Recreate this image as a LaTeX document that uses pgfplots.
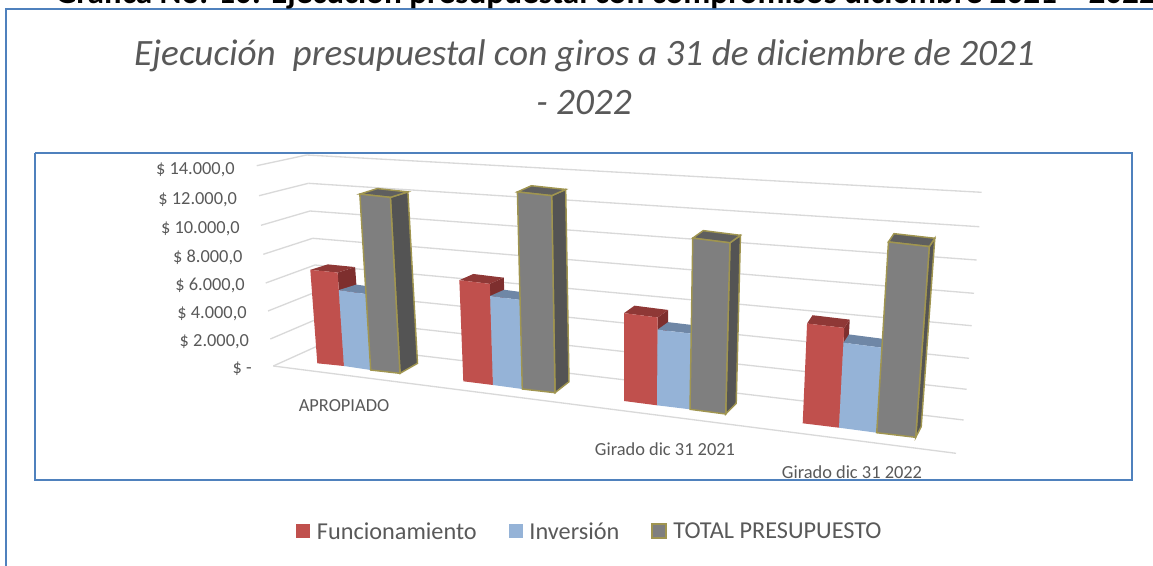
\documentclass[border=0pt]{standalone}
\usepackage{pgfplots}
\pgfplotsset{compat=1.18}
\usepackage{fontspec}
\setmainfont{Carlito}
\definecolor{txt}{HTML}{595959}
\definecolor{frame}{HTML}{4F81BD}
\definecolor{gridc}{HTML}{D9D9D9}
\definecolor{gold}{HTML}{A09550}
\definecolor{redF}{HTML}{C0504D}
\definecolor{redT}{HTML}{8F3836}
\definecolor{redS}{HTML}{7E2F2E}
\definecolor{bluF}{HTML}{95B3D7}
\definecolor{bluT}{HTML}{6F87A6}
\definecolor{bluS}{HTML}{5F7690}
\definecolor{gryF}{HTML}{7F7F7F}
\definecolor{gryT}{HTML}{5F5F5F}
\definecolor{gryS}{HTML}{545454}

% perspective of a group: px per 1000, depth dx, depth dy at top, depth dy at floor
\newcommand{\setgroup}[4]{\def\gs{#1}\def\gdx{#2}\def\gdt{#3}\def\gdb{#4}}
% bar: front base corners in px, value, colour prefix, outline
\newcommand{\threedbar}[7]{%
  \pgfmathsetmacro\ha{#5/1000*\gs}%
  \pgfmathsetmacro\xa{#1}\pgfmathsetmacro\ya{#2}%
  \pgfmathsetmacro\xb{#3}\pgfmathsetmacro\yb{#4}%
  \pgfmathsetmacro\xc{#3+(#3-624)*0.00024*\ha}\pgfmathsetmacro\yc{#4-\ha}%
  \pgfmathsetmacro\xd{#1+(#1-624)*0.00024*\ha}\pgfmathsetmacro\yd{#2-\ha}%
  \pgfmathsetmacro\xe{\xc+\gdx}\pgfmathsetmacro\ye{\yc+\gdt}%
  \pgfmathsetmacro\xf{\xd+\gdx}\pgfmathsetmacro\yf{\yd+\gdt}%
  \pgfmathsetmacro\xg{\xb+\gdx}\pgfmathsetmacro\yg{\yb+\gdb}%
  \edef\tmp{%
    \noexpand\addplot[fill=#6S,draw=#7,line width=1.1pt,forget plot] coordinates {(\xb,\yb)(\xc,\yc)(\xe,\ye)(\xg,\yg)} -- cycle;
    \noexpand\addplot[fill=#6T,draw=#7,line width=1.1pt,forget plot] coordinates {(\xd,\yd)(\xc,\yc)(\xe,\ye)(\xf,\yf)} -- cycle;
    \noexpand\addplot[fill=#6F,draw=#7,line width=1.1pt,forget plot] coordinates {(\xa,\ya)(\xb,\yb)(\xc,\yc)(\xd,\yd)} -- cycle;
  }\tmp
}
\newcommand{\gline}[4]{\addplot[gridc,line width=1pt,forget plot] coordinates {(#1,#2)(#3,#4)};}

\begin{document}
\begin{tikzpicture}
\path[use as bounding box] (0,0) rectangle (864.75pt,423.75pt);
\begin{axis}[
at={(0,0)},anchor=south west,
width=864.75pt,height=423.75pt,scale only axis,
axis lines=none,
xmin=0,xmax=1153,ymin=0,ymax=565,y dir=reverse,
legend columns=3,
legend style={at={(axis cs:296,532)},anchor=west,draw=none,fill=none,
  font=\fontsize{18.2pt}{20pt}\selectfont\color{txt},inner sep=0pt,
  /tikz/every odd column/.append style={column sep=3pt},
  /tikz/every even column/.append style={column sep=22pt}},
legend cell align=left,
]
% frames
\addplot[frame,line width=1.5pt,forget plot] coordinates {(6,570)(6,9)(1160,9)};
\addplot[frame,line width=1.3pt,forget plot] coordinates {(35,152.7)(1132.3,152.7)(1132.3,480)(35,480)(35,152.7)};

% side wall, gridlines 0 to 14000
\gline{273.3}{366}{322}{344}
\gline{270.3}{339}{319.5}{318}
\gline{268}{311}{317}{291.5}
\gline{265.7}{283}{315}{265}
\gline{263.3}{254.3}{312.7}{238.3}
\gline{261}{225.3}{310}{211}
\gline{259}{195.7}{308.3}{183.3}
\gline{256.7}{165.7}{306.7}{155}
% back wall
\gline{322}{344}{963.7}{420}
\gline{319.5}{318}{966.7}{389.3}
\gline{317}{291.5}{969}{358.3}
\gline{315}{265}{971.7}{325.7}
\gline{312.7}{238.3}{974}{293.3}
\gline{310}{211}{976.7}{260}
\gline{308.3}{183.3}{979.3}{226.7}
\gline{306.7}{155}{981.7}{192.3}
% front edge of the floor
\gline{273.3}{366}{956}{453.3}

% APROPIADO
\setgroup{14.6}{17.5}{-5.5}{-10}
\threedbar{317.3}{363.3}{344}{366}{6400}{red}{none}
\threedbar{344}{366}{370.7}{370}{5200}{blu}{none}
\threedbar{370.7}{370}{400}{373.3}{12050}{gry}{gold}
% second group
\setgroup{15.3}{14}{-6.2}{-11}
\threedbar{463.3}{381.3}{493}{385}{6610}{red}{none}
\threedbar{493}{385}{522.3}{389}{5820}{blu}{none}
\threedbar{522.3}{389}{555}{392.7}{12880}{gry}{gold}
% Girado dic 31 2021
\setgroup{16}{10.5}{-7.5}{-10.7}
\threedbar{624}{401}{657}{405.3}{5490}{red}{none}
\threedbar{657}{405.3}{690}{409.3}{4730}{blu}{none}
\threedbar{690}{409.3}{725.7}{414}{10700}{gry}{gold}
% Girado dic 31 2022
\setgroup{17}{5.5}{-8.3}{-10.6}
\threedbar{802.7}{423.3}{839}{427.7}{5870}{red}{none}
\threedbar{839}{427.7}{876.7}{432.7}{5000}{blu}{none}
\threedbar{876.7}{432.7}{915.7}{437.3}{11220}{gry}{gold}

\pgfplotsset{
  legend image code/.code={\path[#1] (0cm,-4.5pt) rectangle (10.5pt,6pt);}
}
\addlegendimage{fill=redF,draw=none}
\addlegendentry{Funcionamiento}
\addlegendimage{fill=bluF,draw=none}
\addlegendentry{Inversión}
\addlegendimage{fill=gryF,draw=gold,line width=1pt}
\addlegendentry{TOTAL PRESUPUESTO}

% tick labels follow the slanted wall
\begin{scope}[every node/.style={anchor=base east,text=txt,inner sep=0pt,font=\fontsize{13.8pt}{15pt}\selectfont}]
\node at (axis cs:235,174.3) {\$ 14.000,0};
\node at (axis cs:237.3,204) {\$ 12.000,0};
\node at (axis cs:240,233) {\$ 10.000,0};
\node at (axis cs:242.7,262) {\$ 8.000,0};
\node at (axis cs:245,290) {\$ 6.000,0};
\node at (axis cs:247,318) {\$ 4.000,0};
\node at (axis cs:249.3,346) {\$ 2.000,0};
\node at (axis cs:252,373) {\$ -};
\end{scope}
\begin{scope}[every node/.style={anchor=base,text=txt,inner sep=0pt,font=\fontsize{13.8pt}{15pt}\selectfont}]
\node at (axis cs:344,411.7) {APROPIADO};
\node at (axis cs:665,455) {Girado dic 31 2021};
\node at (axis cs:852,478) {Girado dic 31 2022};
\end{scope}

\node[anchor=base,text=txt,inner sep=0pt,font=\itshape\fontsize{27.9pt}{30pt}\selectfont] at (axis cs:584.5,65) {Ejecución\ \ presupuestal con giros a 31 de diciembre de 2021};
\node[anchor=base,text=txt,inner sep=0pt,font=\itshape\fontsize{27.9pt}{30pt}\selectfont] at (axis cs:584,114) {- 2022};
\node[anchor=base west,text=black,inner sep=0pt,font=\bfseries\fontsize{24.9pt}{27pt}\selectfont] at (axis cs:55,3.5) {Gráfica No. 10: Ejecución presupuestal con compromisos diciembre 2021 – 2022};
\end{axis}
\end{tikzpicture}
\end{document}
